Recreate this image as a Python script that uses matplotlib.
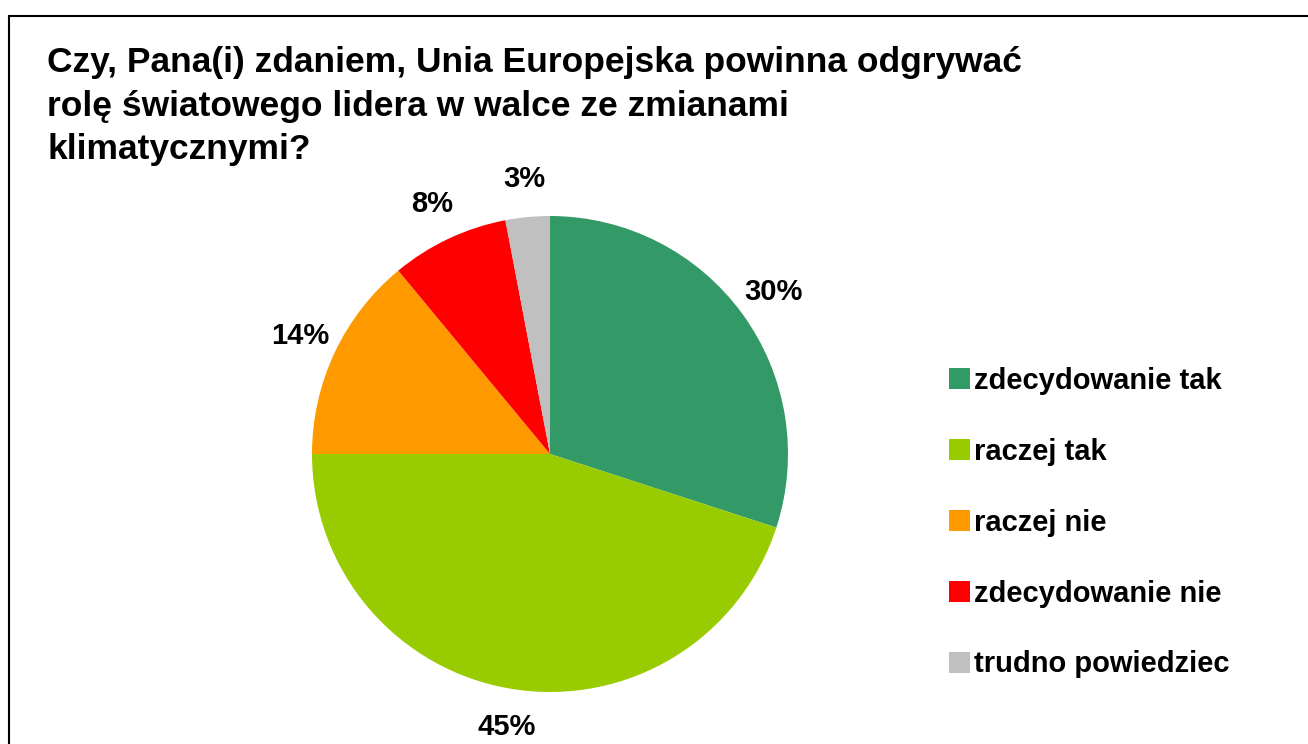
import matplotlib
matplotlib.use("Agg")
import matplotlib.pyplot as plt
from matplotlib.patches import Rectangle

categories = ["zdecydowanie tak", "raczej tak", "raczej nie", "zdecydowanie nie", "trudno powiedziec"]
values = [30, 45, 14, 8, 3]
colors = ["#339966", "#99CC00", "#FF9900", "#FF0000", "#C0C0C0"]
title_lines = ["Czy, Pana(i) zdaniem, Unia Europejska powinna odgrywać",
               "rolę światowego lidera w walce ze zmianami",
               "klimatycznymi?"]

plt.rcParams['font.family'] = ['Liberation Sans', 'DejaVu Sans']
W, H = 1308, 744
fig = plt.figure(figsize=(W/100, H/100), dpi=100)
fig.patch.set_facecolor("white")

# border
fig.add_artist(Rectangle((9/W, -0.1), 1.2, 1 - 16/H + 0.1, transform=fig.transFigure,
                         fill=False, edgecolor="black", linewidth=1.5))

cx, cy, r = 550, 454, 238
ax = fig.add_axes([(cx - r)/W, (H - cy - r)/H, 2*r/W, 2*r/H])
wedges, texts, autotexts = ax.pie(values, colors=colors, startangle=90, counterclock=False,
                                  autopct='%.0f%%', pctdistance=1.16, radius=1,
                                  wedgeprops=dict(linewidth=0),
                                  textprops=dict(fontsize=21, fontweight='bold', color='black'))
ax.set_xlim(-1, 1)
ax.set_ylim(-1, 1)
ax.set_aspect('equal')
ax.axis('off')

for line, base in zip(title_lines, [72, 116, 159]):
    fig.text(47/W, 1 - base/H, line, ha='left', va='baseline', fontsize=25.5,
             fontweight='bold')

fig.legend(wedges, categories, loc='upper left', bbox_to_anchor=(949/W, 1 - 367/H),
           frameon=False, prop=dict(weight='bold', size=21),
           handlelength=0.72, handleheight=0.72, handletextpad=0.15, labelspacing=1.47,
           borderpad=0, borderaxespad=0)

fig.savefig("out.png", dpi=100, facecolor="white")
